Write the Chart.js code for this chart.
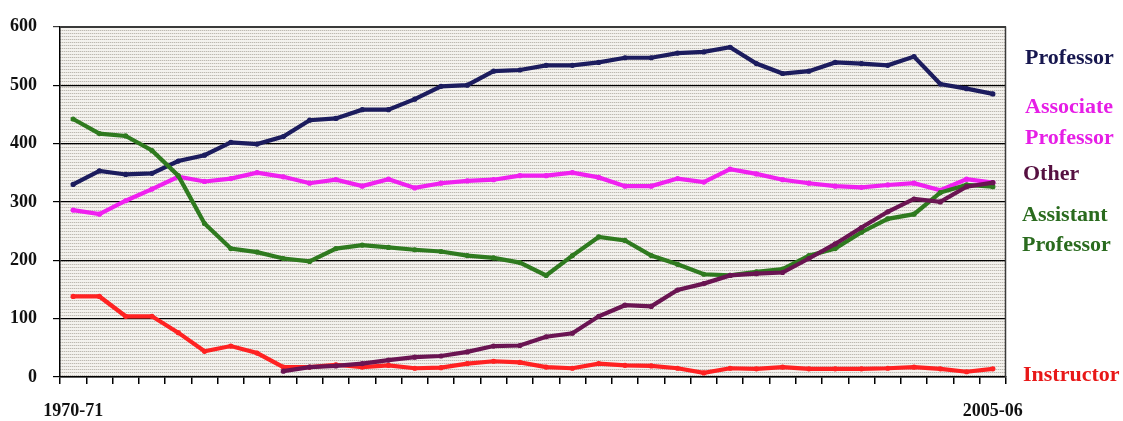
<!DOCTYPE html>
<html>
<head>
<meta charset="utf-8">
<script src="https://cdn.jsdelivr.net/npm/chart.js@4.4.1/dist/chart.umd.min.js"></script>
<style>
  html, body { margin: 0; padding: 0; background: #ffffff; }
  #wrap { width: 1123px; height: 421px; }
</style>
</head>
<body>
<div id="wrap"><canvas id="faculty" width="1123" height="421"></canvas></div>
<script>
// Academic years, 1970-71 through 2005-06
const years = [
  "1970-71","1971-72","1972-73","1973-74","1974-75","1975-76","1976-77","1977-78","1978-79",
  "1979-80","1980-81","1981-82","1982-83","1983-84","1984-85","1985-86","1986-87","1987-88",
  "1988-89","1989-90","1990-91","1991-92","1992-93","1993-94","1994-95","1995-96","1996-97",
  "1997-98","1998-99","1999-00","2000-01","2001-02","2002-03","2003-04","2004-05","2005-06"
];

// Faculty headcount by rank
const professor = [330,353,347,349,370,380,402,399,412,440,443,458,458,476,498,500,524,526,
                   534,534,539,547,547,555,557,565,537,520,524,539,537,534,549,502,494,485];
const associate = [286,279,302,322,343,335,340,350,343,332,338,327,339,324,332,336,338,345,
                   345,350,342,327,327,340,334,356,348,338,332,327,325,329,332,320,339,333];
const assistant = [442,417,413,388,345,263,220,214,203,198,220,226,222,218,215,208,204,196,
                   174,208,240,234,208,193,176,174,180,185,208,220,248,271,279,316,329,326];
const other     = [null,null,null,null,null,null,null,null,10,17,19,23,29,34,36,43,53,54,
                   69,75,104,123,121,149,160,174,177,179,203,228,256,283,305,300,326,333];
const instructor= [138,138,104,104,76,44,53,41,17,17,21,17,20,15,16,23,27,25,
                   17,15,23,20,19,15,7,15,14,17,14,14,14,15,17,14,9,14];

// Axis tick values and the labels shown under the first and last year
const yTicks = [0,100,200,300,400,500,600];
const xShown = ["1970-71","2005-06"];

// Series names placed to the right of the plot
const seriesNames = [
  { lines: ["Professor"], color: "#17174f", x: 1025, y: [58] },
  { lines: ["Associate","Professor"], color: "#e61ee6", x: 1025, y: [107,138] },
  { lines: ["Other"], color: "#561041", x: 1023, y: [174] },
  { lines: ["Assistant","Professor"], color: "#2a6b1e", x: 1022, y: [215,245] },
  { lines: ["Instructor"], color: "#e81818", x: 1023, y: [375] }
];

// Stippled fill for the plotting area
function makeStipple(ctx) {
  const tile = document.createElement("canvas");
  tile.width = 2; tile.height = 3;
  const t = tile.getContext("2d");
  t.fillStyle = "#f4f2ee"; t.fillRect(0, 0, 2, 3);
  t.fillStyle = "#bdb9b2"; t.fillRect(0, 0, 1, 1);
  t.fillStyle = "#e2dfd8"; t.fillRect(1, 0, 1, 1);
  return ctx.createPattern(tile, "repeat");
}

const plotFrame = {
  id: "plotFrame",
  beforeDraw(chart) {
    const { ctx, chartArea: a } = chart;
    ctx.save();
    ctx.fillStyle = makeStipple(ctx);
    ctx.fillRect(a.left, a.top, a.right - a.left, a.bottom - a.top);
    ctx.restore();
  },
  beforeDatasetsDraw(chart) {
    const { ctx, chartArea: a } = chart;
    ctx.save();
    ctx.strokeStyle = "#3a3a3a";
    ctx.lineWidth = 1.5;
    ctx.beginPath();
    ctx.moveTo(a.left, a.top + 0.5);
    ctx.lineTo(a.right - 0.5, a.top + 0.5);
    ctx.lineTo(a.right - 0.5, a.bottom);
    ctx.stroke();
    ctx.restore();
  },
  afterDraw(chart) {
    const ctx = chart.ctx;
    ctx.save();
    ctx.font = "bold 22px 'Liberation Serif', 'Times New Roman', serif";
    ctx.textAlign = "left";
    ctx.textBaseline = "middle";
    seriesNames.forEach(s => {
      ctx.fillStyle = s.color;
      s.lines.forEach((line, i) => ctx.fillText(line, s.x, s.y[i]));
    });
    ctx.restore();
  }
};

function series(label, data, color) {
  return {
    label, data,
    borderColor: color,
    backgroundColor: color,
    borderWidth: 4.2,
    pointRadius: 2.6,
    pointBorderWidth: 0,
    pointBackgroundColor: color,
    tension: 0,
    spanGaps: false
  };
}

new Chart(document.getElementById("faculty"), {
  type: "line",
  data: {
    labels: years,
    // first entry is drawn on top
    datasets: [
      series("Other", other, "#6a1452"),
      series("Assistant Professor", assistant, "#2f7a1f"),
      series("Professor", professor, "#1c1c5e"),
      series("Associate Professor", associate, "#f020f0"),
      series("Instructor", instructor, "#ff2222")
    ]
  },
  options: {
    responsive: false,
    animation: false,
    devicePixelRatio: 1,
    layout: { padding: { top: 21, right: 117, bottom: 0, left: 0 } },
    plugins: {
      legend: { display: false },
      tooltip: { enabled: false }
    },
    scales: {
      x: {
        type: "category",
        offset: true,
        grid: {
          offset: true,
          drawOnChartArea: false,
          drawTicks: true,
          tickLength: 7,
          color: "#000000",
          lineWidth: 1.5
        },
        border: { display: true, color: "#000000", width: 1.5 },
        ticks: {
          autoSkip: false,
          maxRotation: 0,
          padding: 17,
          color: "#111111",
          font: { family: "'Liberation Serif', 'Times New Roman', serif", size: 18, weight: "bold" },
          callback(value, index) {
            const lab = this.getLabelForValue(value);
            return xShown.includes(lab) ? lab : "";
          }
        },
        afterFit(scale) { scale.height = 44; }
      },
      y: {
        min: 0,
        max: 600,
        afterBuildTicks(scale) { scale.ticks = yTicks.map(v => ({ value: v })); },
        grid: {
          color: ctx => (ctx.tick && ctx.tick.value === 600) ? "#3a3a3a" : "#000000",
          lineWidth: 1.2,
          tickLength: 7
        },
        border: { display: true, color: "#000000", width: 1.5 },
        ticks: {
          padding: 16,
          color: "#111111",
          font: { family: "'Liberation Serif', 'Times New Roman', serif", size: 18, weight: "bold" }
        },
        afterFit(scale) { scale.width = 60; }
      }
    }
  },
  plugins: [plotFrame]
});
</script>
</body>
</html>
